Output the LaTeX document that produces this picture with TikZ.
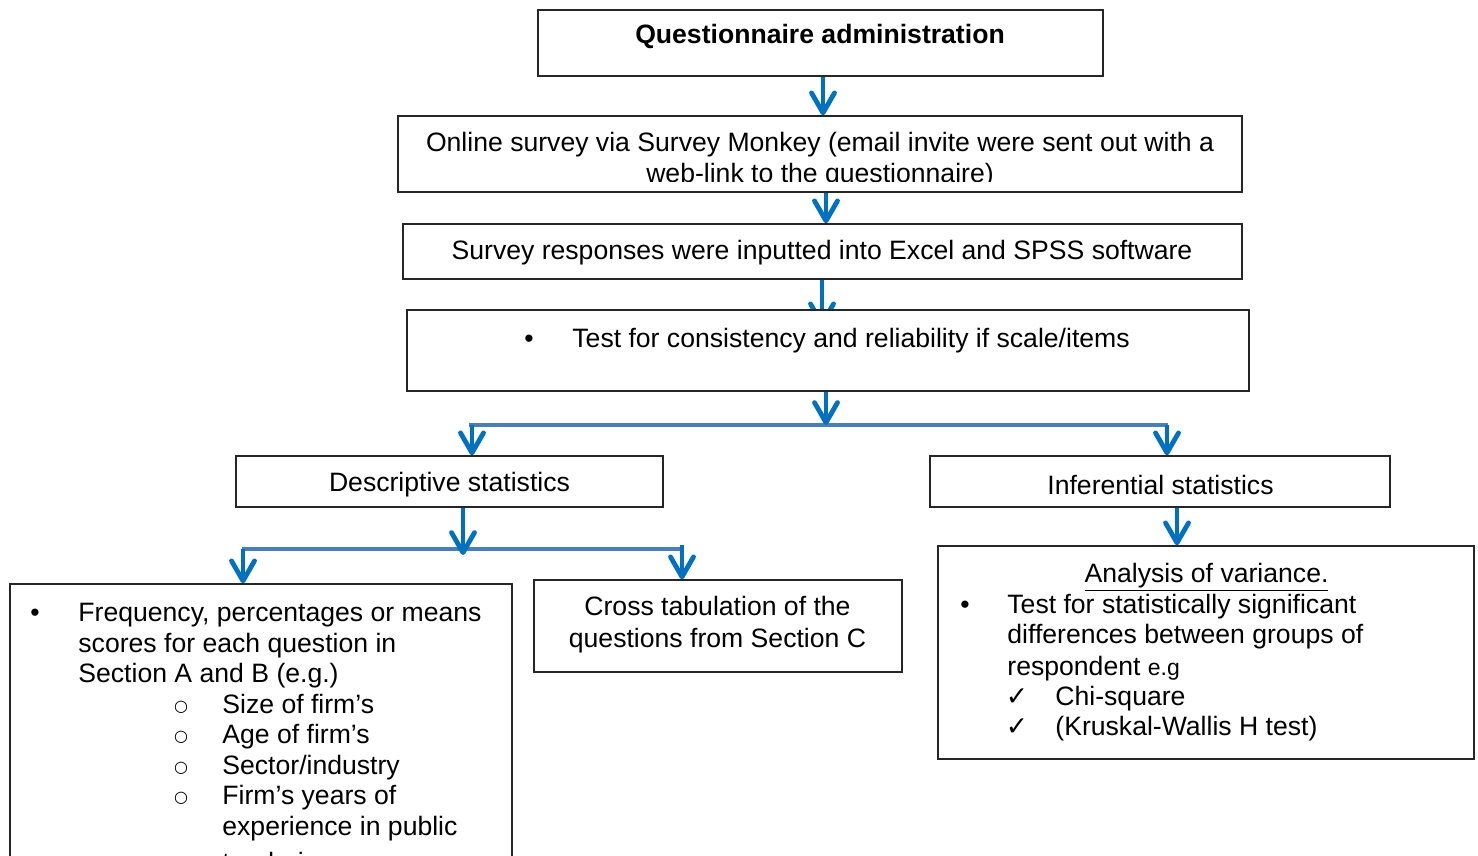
\documentclass[tikz,border=0pt]{standalone}
\usepackage{fontspec}
\setmainfont{Liberation Sans}
\newfontfamily\symfont{DejaVu Sans}
\usetikzlibrary{arrows.meta,fit}
\definecolor{flowblue}{HTML}{0070C0}
\definecolor{barblue}{HTML}{4A7EBB}
\definecolor{boxline}{HTML}{262626}
\pgfdeclarelayer{bg}
\pgfsetlayers{bg,main}
\newcommand{\subbullet}{\raisebox{0.9pt}{\fontsize{8pt}{9pt}\selectfont\symfont ○}}
\begin{document}
\begin{tikzpicture}[x=0.5pt,y=-0.5pt,
  box/.style={draw=boxline,line width=0.7pt,fill=white,inner sep=0pt,rectangle},
  lt/.style={inner sep=0pt,anchor=base west},
  ct/.style={inner sep=0pt,anchor=base},
  arr/.style={draw=flowblue,line width=2.4pt,-{Straight Barb[length=10pt,width=11.5pt,round]}},
  barline/.style={draw=barblue,line width=2pt},
  font=\fontsize{13.3pt}{15.4pt}\selectfont]
\useasboundingbox (0,0) rectangle (1478,856);

% ---- boxes ----
\node[box,fit={(538,10)(1103,76)}]    (q)     {};
\node[box,fit={(398,116)(1242,192)}]  (onl)   {};
\node[box,fit={(403,224)(1242,279)}]  (resp)  {};
\node[box,fit={(407,310)(1249,391)}]  (test)  {};
\node[box,fit={(236,456)(663,507)}]   (desc)  {};
\node[box,fit={(930,456)(1390,507)}]  (inf)   {};
\node[box,fit={(10,584)(512,900)}]    (freq)  {};
\node[box,fit={(534,580)(902,672)}]   (cross) {};
\node[box,fit={(938,546)(1474,759)}]  (anova) {};

% ---- connector positions ----
\coordinate (ax1) at (823,0);
\coordinate (ax2) at (826,0);
\coordinate (ax3) at (822,0);
\coordinate (ax4) at (826,0);
\coordinate (ax5) at (472,0);
\coordinate (ax6) at (1167,0);
\coordinate (ax7) at (463,0);
\coordinate (ax8) at (682,0);
\coordinate (ax9) at (243,0);
\coordinate (ax10) at (1177,0);
\coordinate (b1l) at (469,425);
\coordinate (b1r) at (1168,425);
\coordinate (b2l) at (242,549);
\coordinate (b2r) at (682,549);

\begin{pgfonlayer}{bg}
  \draw[barline] (b1l) -- (b1r);
  \draw[barline] (b2l) -- (b2r);
  \draw[arr] (q.south -| ax1) -- (onl.north -| ax1);
  \draw[arr] (onl.south -| ax2) -- (resp.north -| ax2);
  \draw[arr] (resp.south -| ax3) -- ([yshift=-8.5pt]test.north -| ax3);
  \draw[arr] (test.south -| ax4) -- (b1l -| ax4);
  \draw[arr] (b1l -| ax5) -- (desc.north -| ax5);
  \draw[arr] (b1r -| ax6) -- (inf.north -| ax6);
  \draw[arr] (desc.south -| ax7) -- ([yshift=-3pt]b2l -| ax7);
  \draw[arr] ([yshift=2pt]b2r -| ax8) -- (cross.north -| ax8);
  \draw[arr] (b2l -| ax9) -- (freq.north -| ax9);
  \draw[arr] (inf.south -| ax10) -- (anova.north -| ax10);
\end{pgfonlayer}

% ---- texts ----
\node[ct,font=\fontsize{13.3pt}{15.4pt}\selectfont\bfseries] (tq) at (820,44) {Questionnaire administration};

\begin{scope}
  \clip (398,116) rectangle (1242,181.5);
  \node[ct] (to1) at (820,152) {Online survey via Survey Monkey (email invite were sent out with a};
  \node[ct] (to2) at (820,183) {web-link to the questionnaire)};
\end{scope}

\node[ct] (tr) at (822,259) {Survey responses were inputted into Excel and SPSS software};

\node[ct] (tb1) at (529,347) {•};
\node[lt] (tt) at (572,347) {Test for consistency and reliability if scale/items};

\node[ct] (td) at (449.5,491) {Descriptive statistics};
\node[ct] (ti) at (1160.5,494) {Inferential statistics};

% frequency list
\node[ct] (fb) at (35,621) {•};
\node[lt] (f1) at (78,621) {Frequency, percentages or means};
\node[lt] (f2) at (78,652) {scores for each question in};
\node[lt] (f3) at (78,682) {Section A and B (e.g.)};
\node[ct] (s1) at (181,713) {\subbullet};
\node[lt] (g1) at (222,713) {Size of firm’s};
\node[ct] (s2) at (181,743) {\subbullet};
\node[lt] (g2) at (222,743) {Age of firm’s};
\node[ct] (s3) at (181,774) {\subbullet};
\node[lt] (g3) at (222,774) {Sector/industry};
\node[ct] (s4) at (181,804) {\subbullet};
\node[lt] (g4) at (222,804) {Firm’s years of};
\node[lt] (g5) at (222,835) {experience in public};
\node[lt] (g6) at (222,871) {tendering};

% cross tabulation
\node[ct] (c1) at (717.5,615) {Cross tabulation of the};
\node[ct] (c2) at (717.5,647) {questions from Section C};

% analysis of variance
\node[ct] (a0) at (1206.5,582) {\underline{Analysis of variance.}};
\node[ct] (ab) at (965,613) {•};
\node[lt] (a1) at (1007,613) {Test for statistically significant};
\node[lt] (a2) at (1007,643) {differences between groups of};
\node[lt] (a3) at (1007,675) {respondent {\fontsize{11.5pt}{13pt}\selectfont e.g}};
\node[ct] (k1) at (1017,705) {\symfont ✓};
\node[lt] (a4) at (1055,705) {Chi-square};
\node[ct] (k2) at (1017,735) {\symfont ✓};
\node[lt] (a5) at (1055,735) {(Kruskal-Wallis H test)};
\end{tikzpicture}
\end{document}
